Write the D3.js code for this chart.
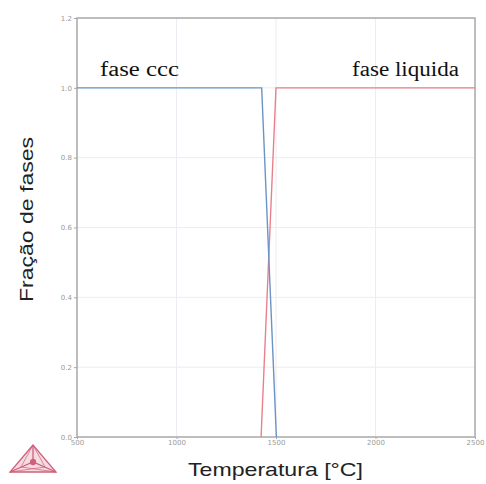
<!DOCTYPE html>
<html>
<head>
<meta charset="utf-8">
<script src="https://cdn.jsdelivr.net/npm/d3@7"></script>
<style>
  body { margin: 0; background: #fff; }
  svg { display: block; }
  .tick text { font-family: "DejaVu Sans", sans-serif; font-size: 7px; fill: #9a9a9a; }
</style>
</head>
<body>
<svg id="chart" width="486" height="484"></svg>
<script>
// Temperature grid (°C) and phase fractions
const ccTemp = [500, 1428, 1502];
const ccFrac = [1, 1, 0];
const liqTemp = [1425, 1500, 2500];
const liqFrac = [0, 1, 1];

const xTicks = [500, 1000, 1500, 2000, 2500];
const yTicks = [0, 0.2, 0.4, 0.6, 0.8, 1.0, 1.2];

const svg = d3.select('#chart');
const margin = { left: 77, right: 11, top: 18, bottom: 47 };
const width = 486, height = 484;

const x = d3.scaleLinear().domain([500, 2500]).range([margin.left, width - margin.right]);
const y = d3.scaleLinear().domain([0, 1.2]).range([height - margin.bottom, margin.top]);

// grid
svg.append('g')
  .selectAll('line')
  .data(xTicks.slice(1, -1))
  .join('line')
  .attr('x1', d => x(d)).attr('x2', d => x(d))
  .attr('y1', y(0)).attr('y2', y(1.2))
  .attr('stroke', '#ececf2').attr('stroke-width', 1);

svg.append('g')
  .selectAll('line')
  .data(yTicks.slice(1, -1))
  .join('line')
  .attr('x1', x(500)).attr('x2', x(2500))
  .attr('y1', d => y(d)).attr('y2', d => y(d))
  .attr('stroke', '#ececf2').attr('stroke-width', 1);

// frame
svg.append('rect')
  .attr('x', x(500)).attr('y', y(1.2))
  .attr('width', x(2500) - x(500)).attr('height', y(0) - y(1.2))
  .attr('fill', 'none').attr('stroke', '#a8a8a8').attr('stroke-width', 1.5);

// axes
const xAxis = svg.append('g')
  .attr('transform', `translate(0,${y(0)})`)
  .call(d3.axisBottom(x).tickValues(xTicks).tickSize(2).tickPadding(1).tickFormat(d3.format('d')));
xAxis.select('.domain').remove();
xAxis.selectAll('.tick line').attr('stroke', '#a8a8a8');

const yAxis = svg.append('g')
  .attr('transform', `translate(${x(500)},0)`)
  .call(d3.axisLeft(y).tickValues(yTicks).tickSize(3).tickPadding(2).tickFormat(d3.format('.1f')));
yAxis.select('.domain').remove();
yAxis.selectAll('.tick line').attr('stroke', '#a8a8a8');

// phase curves
const line = d3.line().x(d => x(d[0])).y(d => y(d[1]));

svg.append('path')
  .datum(liqTemp.map((t, i) => [t, liqFrac[i]]))
  .attr('d', line)
  .attr('fill', 'none')
  .attr('stroke', '#e8808c')
  .attr('stroke-width', 1.4);

svg.append('path')
  .datum(ccTemp.map((t, i) => [t, ccFrac[i]]))
  .attr('d', line)
  .attr('fill', 'none')
  .attr('stroke', '#6b93c4')
  .attr('stroke-width', 1.4);

// phase labels
svg.append('text')
  .attr('x', 100).attr('y', 76)
  .attr('font-family', '"Liberation Serif", serif')
  .attr('font-size', 20)
  .attr('textLength', 79)
  .attr('lengthAdjust', 'spacingAndGlyphs')
  .attr('fill', '#111')
  .text('fase ccc');

svg.append('text')
  .attr('x', 352).attr('y', 76)
  .attr('font-family', '"Liberation Serif", serif')
  .attr('font-size', 20)
  .attr('textLength', 107)
  .attr('lengthAdjust', 'spacingAndGlyphs')
  .attr('fill', '#111')
  .text('fase liquida');

// axis titles
svg.append('text')
  .attr('x', 188).attr('y', 476)
  .attr('font-family', '"Liberation Sans", Arial, sans-serif')
  .attr('font-size', 19)
  .attr('textLength', 175)
  .attr('lengthAdjust', 'spacingAndGlyphs')
  .attr('fill', '#222')
  .text('Temperatura [°C]');

svg.append('text')
  .attr('transform', 'translate(33,302) rotate(-90)')
  .attr('font-family', '"Liberation Sans", Arial, sans-serif')
  .attr('font-size', 19)
  .attr('textLength', 165)
  .attr('lengthAdjust', 'spacingAndGlyphs')
  .attr('fill', '#222')
  .text('Fração de fases');

// logo (triangle mark, bottom-left)
const logo = svg.append('g')
  .attr('transform', 'translate(33,458)')
  .attr('fill', 'none')
  .attr('stroke', '#d0607a')
  .attr('stroke-width', 1.3);
logo.append('path').attr('d', 'M0,-13 L-23,14 L23,14 Z').attr('fill', '#f6dbe2');
logo.append('path').attr('d', 'M0,-13 L0,4 M-23,14 L0,4 L23,14');
logo.append('path').attr('d', 'M0,-13 L-12,9 M0,-13 L12,9 M-23,14 L12,9 M23,14 L-12,9').attr('stroke-width', 0.7);
logo.append('circle').attr('cx', 0).attr('cy', 4).attr('r', 2.5).attr('fill', '#d0607a');
</script>
</body>
</html>
